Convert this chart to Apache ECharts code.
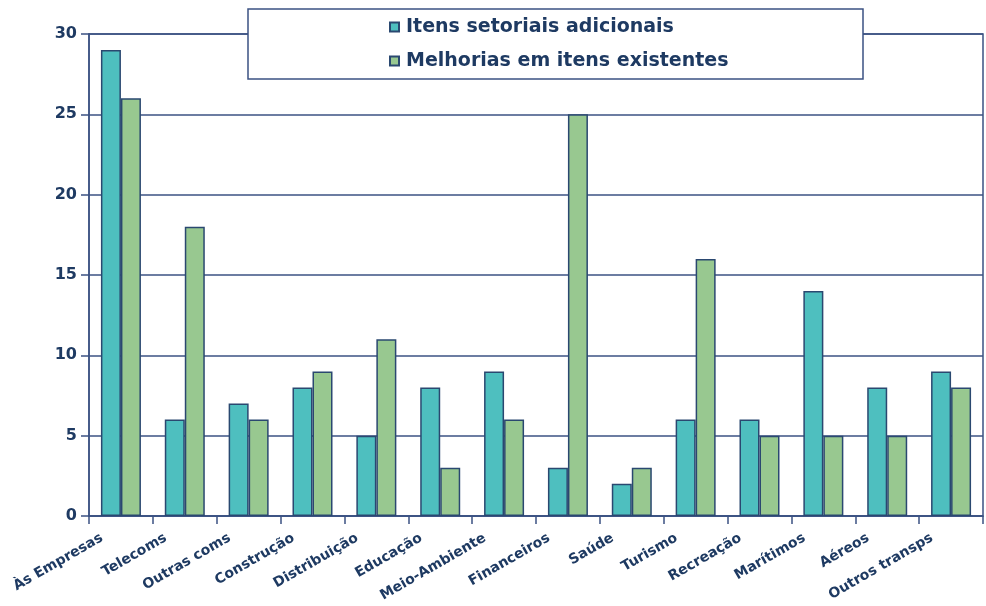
<!DOCTYPE html>
<html>
<head>
<meta charset="utf-8">
<script src="https://cdn.jsdelivr.net/npm/echarts@6/dist/echarts.min.js"></script>
<style>
html,body{margin:0;padding:0;background:#fff;}
#chart{width:986px;height:606px;}
</style>
</head>
<body>
<div id="chart"></div>
<script>
const categories = ['Às Empresas','Telecoms','Outras coms','Construção','Distribuição','Educação','Meio-Ambiente','Financeiros','Saúde','Turismo','Recreação','Marítimos','Aéreos','Outros transps'];
const seriesNames = ['Itens setoriais adicionais','Melhorias em itens existentes'];
const adicionais = [29,6,7,8,5,8,9,3,2,6,6,14,8,9];
const melhorias = [26,18,6,9,11,3,6,25,3,16,5,5,5,8];
const yTicks = {min:0, max:30, interval:5};

const navy = '#3B5283';
const textCol = '#1E3A62';
const font = 'DejaVu Sans';

const chart = echarts.init(document.getElementById('chart'), null, {renderer:'canvas'});
chart.setOption({
  backgroundColor:'#fff',
  animation:false,
  grid:{left:89, right:3, top:34, bottom:90, show:true, borderColor:navy, borderWidth:1.5, backgroundColor:'transparent'},
  legend:{
    orient:'vertical', left:384, top:11, z:200,
    itemWidth:9, itemHeight:9, itemGap:12, icon:'rect',
    textStyle:{fontFamily:font, fontWeight:'bold', fontSize:19, color:textCol, lineHeight:22, padding:[0,0,0,2]},
    data:seriesNames
  },
  graphic:[{
    type:'rect', z:100,
    shape:{x:248, y:9, width:615, height:70},
    style:{fill:'#fff', stroke:navy, lineWidth:1.5}
  }],
  xAxis:{
    type:'category', data:categories, boundaryGap:true,
    axisLine:{lineStyle:{color:navy, width:1.5}},
    axisTick:{show:true, length:8, lineStyle:{color:navy, width:1.5}},
    axisLabel:{interval:0, rotate:30, margin:10, padding:[0,22,0,0], fontFamily:font, fontWeight:'bold', fontSize:14, color:textCol}
  },
  yAxis:{
    type:'value', min:yTicks.min, max:yTicks.max, interval:yTicks.interval,
    axisLine:{show:true, lineStyle:{color:navy, width:1.5}},
    axisTick:{show:true, length:8, lineStyle:{color:navy, width:1.5}},
    splitLine:{show:true, lineStyle:{color:navy, width:1.5}},
    axisLabel:{margin:12, fontFamily:font, fontWeight:'bold', fontSize:16, color:textCol}
  },
  series:[
    {name:seriesNames[0], type:'bar', data:adicionais, barWidth:20, barGap:'0%',
     itemStyle:{color:'#4EBFBF', borderColor:'#2A4870', borderWidth:1.5}},
    {name:seriesNames[1], type:'bar', data:melhorias, barWidth:20, barGap:'0%',
     itemStyle:{color:'#98C890', borderColor:'#2A4870', borderWidth:1.5}}
  ]
});
</script>
</body>
</html>
